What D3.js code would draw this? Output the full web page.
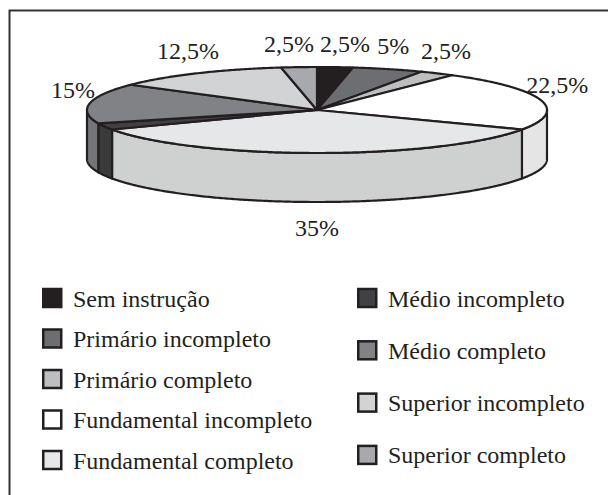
<!DOCTYPE html>
<html>
    <head>
        <meta charset="utf-8">
        <script src="https://d3js.org/d3.v7.min.js"></script>
        <style>
            body { margin: 0; background: #fff; }
            text { font-family: "Liberation Serif", "Times New Roman", serif; fill: #231f20; }
        </style>
    </head>

    <body>
        <div id="target"></div>

        <script>
            // data, clockwise from 12 o'clock
            var categories = ['Sem instrução', 'Primário incompleto', 'Primário completo',
                              'Fundamental incompleto', 'Fundamental completo', 'Médio incompleto',
                              'Médio completo', 'Superior incompleto', 'Superior completo'];
            var values = [2.5, 5, 2.5, 22.5, 35, 2.5, 15, 12.5, 2.5];
            var labels = ['2,5%', '5%', '2,5%', '22,5%', '35%', '', '15%', '12,5%', '2,5%'];

            var colors = ['#231f20', '#6d6e71', '#bcbec0', '#ffffff', '#e6e7e8',
                          '#414042', '#808285', '#d1d3d4', '#a7a9ac'];

            var W = 608, H = 495;
            var cx = 317, cy = 110, rx = 230, ry = 43, depth = 49;

            var svg = d3.select('#target')
                        .append('svg')
                        .attr('width', W)
                        .attr('height', H);

            // frame (right and bottom edges fall outside the picture)
            svg.append('rect')
                .attr('x', 9.5).attr('y', 10.5)
                .attr('width', 700).attr('height', 600)
                .attr('fill', 'none')
                .attr('stroke', '#333')
                .attr('stroke-width', 2);

            var pie = d3.pie().sort(null).value(function(d){ return d; });
            var arcs = pie(values);

            function pt(a, dy){
                return [cx + rx * Math.sin(a), cy - ry * Math.cos(a) + (dy || 0)];
            }

            function arcPoints(a0, a1, dy){
                var n = Math.max(2, Math.ceil(Math.abs(a1 - a0) / 0.01));
                return d3.range(n + 1).map(function(i){
                    return pt(a0 + (a1 - a0) * i / n, dy);
                });
            }

            var line = d3.line();

            // side walls, only the front half is visible
            var walls = svg.append('g');
            arcs.forEach(function(d, i){
                var a0 = Math.max(d.startAngle, Math.PI / 2);
                var a1 = Math.min(d.endAngle, Math.PI * 1.5);
                if (a1 <= a0) return;
                var top = arcPoints(a0, a1, 0);
                var bottom = arcPoints(a1, a0, depth);
                walls.append('path')
                    .attr('d', line(top.concat(bottom)) + 'Z')
                    .attr('fill', d3.color(colors[i]).darker(0.3))
                    .attr('stroke', '#231f20')
                    .attr('stroke-width', 2.2)
                    .attr('stroke-linejoin', 'round');
            });

            // top faces
            var tops = svg.append('g');
            arcs.forEach(function(d, i){
                var pts = [[cx, cy]].concat(arcPoints(d.startAngle, d.endAngle, 0));
                tops.append('path')
                    .attr('d', line(pts) + 'Z')
                    .attr('fill', colors[i])
                    .attr('stroke', '#231f20')
                    .attr('stroke-width', 2.2)
                    .attr('stroke-linejoin', 'round');
            });

            // labels
            var fs = 24;
            var lab = arcs.map(function(d, i){
                var a = (d.startAngle + d.endAngle) / 2;
                var s = Math.sin(a), c = Math.cos(a);
                var x = cx + 247 * s, y;
                if (c >= 0) {
                    y = cy - 66 * c - 10 * s * s;
                } else {
                    y = cy - ry * c + depth - 26 * c + 22 * (1 + c);
                }
                return { text: labels[i], x: x, y: y, back: c >= 0 };
            }).filter(function(l){ return l.text !== ''; });

            // measure and push apart overlapping labels on the back side
            var tmp = svg.append('text').style('font-size', fs + 'px');
            lab.forEach(function(l){
                tmp.text(l.text);
                l.w = tmp.node().getComputedTextLength();
            });
            tmp.remove();
            var back = lab.filter(function(l){ return l.back; })
                          .sort(function(a, b){ return a.x - b.x; });
            for (var k = 0; k < 5; k++) {
                for (var j = 1; j < back.length; j++) {
                    var p = back[j - 1], q = back[j];
                    var need = (p.w + q.w) / 2 + 6;
                    var gap = q.x - p.x;
                    if (gap < need && Math.abs(p.y - q.y) < fs) {
                        var m = (need - gap) / 2;
                        p.x -= m; q.x += m;
                    }
                }
            }

            svg.append('g').selectAll('text')
                .data(lab)
                .enter()
                .append('text')
                .attr('x', function(d){ return d.x; })
                .attr('y', function(d){ return d.y + 8; })
                .attr('text-anchor', 'middle')
                .style('font-size', fs + 'px')
                .text(function(d){ return d.text; });

            // legend, two columns
            var legend = svg.append('g');
            var cols = [
                { items: d3.range(0, 5), x: 42, y0: 298, step: 40.5 },
                { items: d3.range(5, 9), x: 357, y0: 298, step: 52.3 }
            ];
            cols.forEach(function(col){
                col.items.forEach(function(idx, r){
                    var y = col.y0 + r * col.step;
                    legend.append('rect')
                        .attr('x', col.x + 1.25).attr('y', y - 9)
                        .attr('width', 18).attr('height', 18)
                        .attr('fill', colors[idx])
                        .attr('stroke', '#231f20')
                        .attr('stroke-width', 2.5);
                    legend.append('text')
                        .attr('x', col.x + 31)
                        .attr('y', y + 8.5)
                        .style('font-size', fs + 'px')
                        .text(categories[idx]);
                });
            });
        </script>
    </body>
</html>
